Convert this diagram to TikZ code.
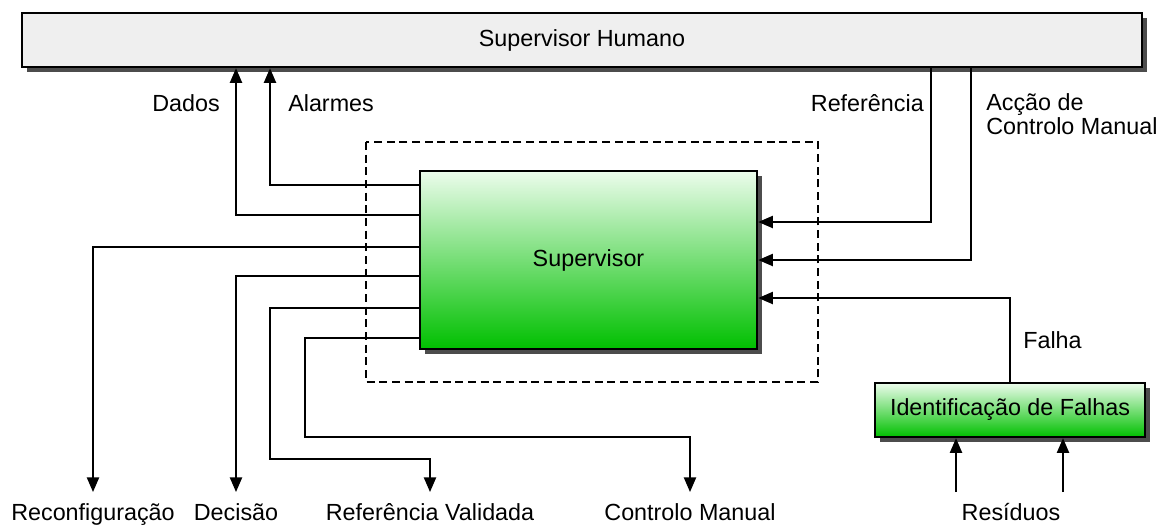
\documentclass[tikz,border=0pt]{standalone}
\usepackage{fontspec}
\setmainfont{Liberation Sans}
\usetikzlibrary{arrows.meta,shadows}
\definecolor{boxgray}{RGB}{239,239,239}
\definecolor{grntop}{RGB}{236,252,236}
\definecolor{grnbot}{RGB}{0,192,0}
\tikzset{
  every node/.append style={font=\fontsize{17.5}{18}\selectfont},
  blk/.style={draw, line width=1.8pt,
    drop shadow={shadow xshift=3.5pt, shadow yshift=-3.5pt, fill=black!70, opacity=1}},
  grnblk/.style={blk, top color=grntop, bottom color=grnbot},
  lnk/.style={line width=1.6pt},
  arr/.style={lnk, -{Triangle[length=11pt,width=9pt]}},
  outlbl/.style={anchor=base, inner sep=0.75pt, text height=20pt, text depth=5pt},
}
\begin{document}
\begin{tikzpicture}[x=0.75pt,y=0.75pt,yscale=-1,xscale=1]
\useasboundingbox (0,0) rectangle (1163,525);
%Dashed frame
\draw [line width=1.4pt, dash pattern=on 6pt off 3.5pt] (366,142) rectangle (818,382);
%Blocks
\node [blk, fill=boxgray, minimum width=840pt, minimum height=40.5pt] (human) at (582,40) {Supervisor Humano};
\node [grnblk, minimum width=252.75pt, minimum height=133.5pt] (sup) at (588.5,260) {Supervisor};
\node [grnblk, minimum width=202.5pt, minimum height=40.5pt] (ident) at (1010,410) {Identificação de Falhas};

% Text Node
\node [inner sep=0.75pt] (dados) at (186,103) {Dados};
% Text Node
\node [anchor=west, inner sep=0.75pt] (alarmes) at (287,103) {Alarmes};
% Text Node
\node [anchor=east, inner sep=0.75pt] (ref) at (925,103) {Referência};
% Text Node
\node [anchor=north west, align=left, inner sep=0.75pt] (accao) at (985,92) {Acção de\\Controlo Manual};
% Text Node
\node [anchor=west, inner sep=0.75pt] (falha) at (1022,340) {Falha};
% Text Node
\node [outlbl] (reconf) at (93,520) {Reconfiguração};
\node [outlbl] (decisao) at (236,520) {Decisão};
\node [outlbl] (refval) at (430,520) {Referência Validada};
\node [outlbl] (ctrl) at (690,520) {Controlo Manual};
\node [outlbl] (res) at (1011,520) {Resíduos};

%Outputs to the human supervisor
\draw [arr] (sup.west |- 0,215) -| (human.south -| 236,0);
\draw [arr] (sup.west |- 0,185) -| (human.south -| 270,0);
%Outputs downwards
\draw [arr] (sup.west |- 0,247) -| (reconf.north);
\draw [arr] (sup.west |- 0,276) -| (decisao.north);
\draw [arr] (sup.west |- 0,308) -| (270,459) -| (refval.north);
\draw [arr] (sup.west |- 0,338) -| (305,437) -| (ctrl.north);
%Inputs
\draw [arr] (human.south -| 931,0) |- (sup.east |- 0,222);
\draw [arr] (human.south -| 971,0) |- (sup.east |- 0,260);
\draw [arr] (ident.north) |- (sup.east |- 0,298);
\draw [arr] (res.north -| 956,0) -- (ident.south -| 956,0);
\draw [arr] (res.north -| 1063,0) -- (ident.south -| 1063,0);
\end{tikzpicture}
\end{document}
